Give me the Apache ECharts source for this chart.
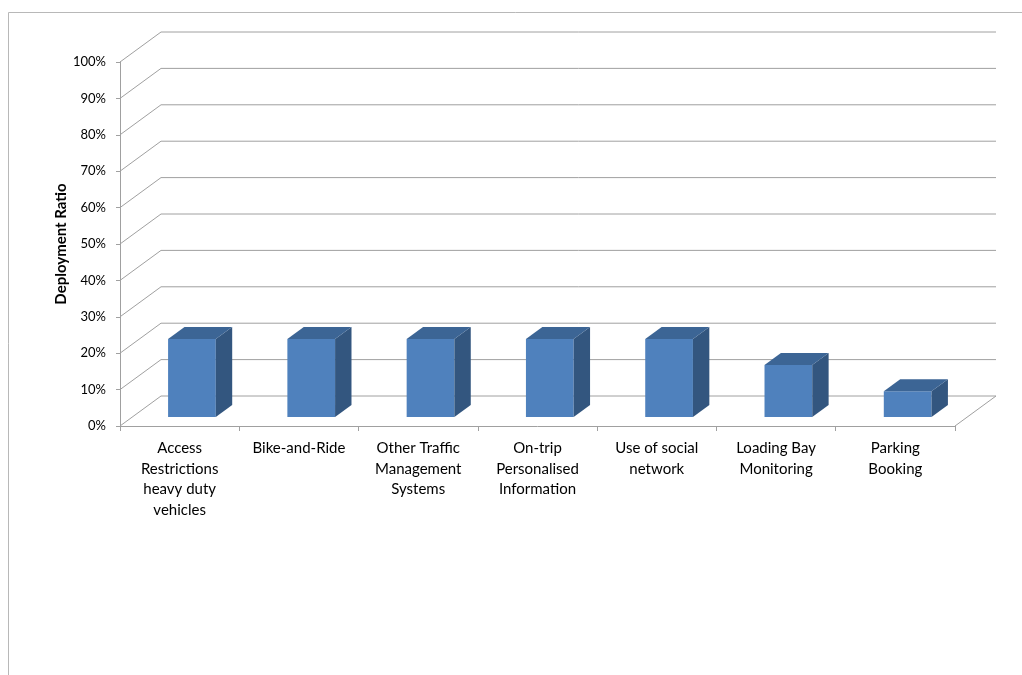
<!DOCTYPE html>
<html>
<head>
<meta charset="utf-8">
<script src="https://cdn.jsdelivr.net/npm/echarts@6/dist/echarts.min.js"></script>
<style>
  html, body { margin: 0; padding: 0; background: #ffffff; }
  #chart { width: 1022px; height: 675px; }
</style>
</head>
<body>
<div id="chart"></div>
<script>
// Measures and their deployment ratio (%)
const categories = [
  'Access\nRestrictions\nheavy duty\nvehicles',
  'Bike-and-Ride',
  'Other Traffic\nManagement\nSystems',
  'On-trip\nPersonalised\nInformation',
  'Use of social\nnetwork',
  'Loading Bay\nMonitoring',
  'Parking\nBooking'
];
const deploymentRatio = [21.4, 21.4, 21.4, 21.4, 21.4, 14.3, 7.1];
const yTicks = [0, 10, 20, 30, 40, 50, 60, 70, 80, 90, 100];

// Oblique projection of the depth axis (pixels from front plane to back wall)
const DEPTH = [41, -30];
const BAR_FRONT = 0.3;   // depth fraction where a bar's front face sits
const BAR_DEPTH = 0.4;   // depth fraction a bar occupies
const BAR_WIDTH = 0.4;   // fraction of the category band
const GRID_COLOR = '#a0a0a0';
const FONT = 'Lato, "Open Sans", sans-serif';

function renderFrame(params, api) {
  const cs = params.coordSys;
  const v = api.value(1);
  const y = api.coord([0, v])[1];
  const left = cs.x;
  const right = cs.x + cs.width;
  const style = { stroke: GRID_COLOR, lineWidth: 1, fill: null };
  const children = [
    { type: 'line', shape: { x1: left, y1: y, x2: left + DEPTH[0], y2: y + DEPTH[1] }, style },
    { type: 'line', shape: { x1: left + DEPTH[0], y1: y + DEPTH[1], x2: right + DEPTH[0], y2: y + DEPTH[1] }, style }
  ];
  if (v === 0) {
    children.push({ type: 'line', shape: { x1: right, y1: y, x2: right + DEPTH[0], y2: y + DEPTH[1] }, style });
  }
  return { type: 'group', children };
}

function renderBar(params, api) {
  const idx = api.value(0);
  const v = api.value(1);
  const topPt = api.coord([idx, v]);
  const basePt = api.coord([idx, 0]);
  const band = api.size([1, 0])[0];
  const w = band * BAR_WIDTH;
  const ox = DEPTH[0] * BAR_FRONT, oy = DEPTH[1] * BAR_FRONT;
  const dx = DEPTH[0] * BAR_DEPTH, dy = DEPTH[1] * BAR_DEPTH;
  const x0 = topPt[0] - w / 2 + ox;
  const x1 = x0 + w;
  const yt = topPt[1] + oy;
  const yb = basePt[1] + oy;
  return {
    type: 'group',
    children: [
      { type: 'rect', shape: { x: x0, y: yt, width: w, height: yb - yt }, style: { fill: '#4f81bd' } },
      { type: 'polygon', shape: { points: [[x1, yb], [x1, yt], [x1 + dx, yt + dy], [x1 + dx, yb + dy]] }, style: { fill: '#33567f' } },
      { type: 'polygon', shape: { points: [[x0, yt], [x1, yt], [x1 + dx, yt + dy], [x0 + dx, yt + dy]] }, style: { fill: '#3c6595' } }
    ]
  };
}

const chart = echarts.init(document.getElementById('chart'));
chart.setOption({
  animation: false,
  backgroundColor: '#ffffff',
  textStyle: { fontFamily: FONT },
  graphic: [{
    type: 'polyline',
    shape: { points: [[8.5, 675], [8.5, 12.5], [1022, 12.5]] },
    style: { stroke: '#b8b8b8', lineWidth: 1, fill: null },
    silent: true
  }],
  grid: { left: 120, top: 62, right: 67, bottom: 249, containLabel: false },
  xAxis: {
    type: 'category',
    data: categories,
    axisLine: { lineStyle: { color: GRID_COLOR, width: 1 } },
    axisTick: { show: true, length: 5, lineStyle: { color: GRID_COLOR } },
    axisLabel: {
      interval: 0, fontSize: 15, lineHeight: 20.5, color: '#000', margin: 12, fontFamily: FONT
    },
    splitLine: { show: false }
  },
  yAxis: {
    type: 'value',
    min: 0, max: 100, interval: 10,
    name: 'Deployment Ratio',
    nameLocation: 'middle',
    nameRotate: 90,
    nameGap: 51,
    nameMoveOverlap: false,
    nameTextStyle: { fontSize: 15, fontWeight: 'bold', color: '#000', fontFamily: FONT },
    axisLine: { show: true, lineStyle: { color: GRID_COLOR, width: 1 } },
    axisTick: { show: true, length: 4, lineStyle: { color: GRID_COLOR } },
    axisLabel: { formatter: '{value}%', fontSize: 13, color: '#000', margin: 14, fontFamily: FONT },
    splitLine: { show: false }
  },
  series: [
    {
      type: 'custom',
      name: 'frame',
      silent: true,
      z: 1,
      renderItem: renderFrame,
      encode: { x: 0, y: 1 },
      data: yTicks.map(t => [0, t])
    },
    {
      type: 'custom',
      name: 'Deployment Ratio',
      z: 2,
      renderItem: renderBar,
      encode: { x: 0, y: 1 },
      data: deploymentRatio.map((v, i) => [i, v])
    }
  ]
});
</script>
</body>
</html>
